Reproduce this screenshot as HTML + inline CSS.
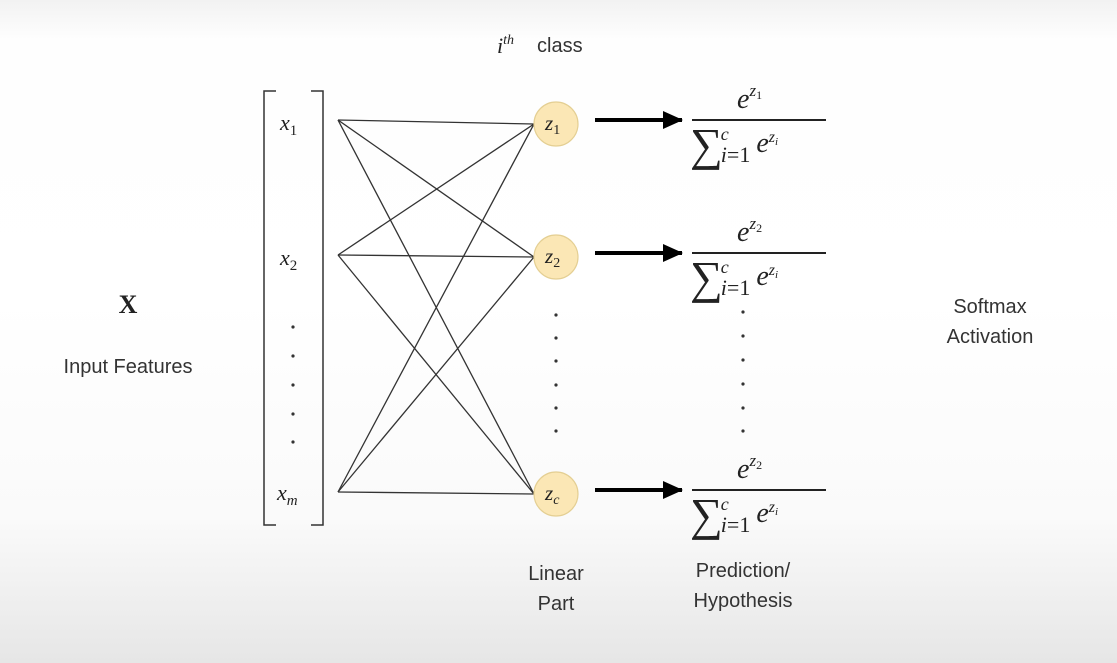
<!DOCTYPE html>
<html><head><meta charset="utf-8">
<style>
html,body{margin:0;padding:0;}
body{width:1117px;height:663px;overflow:hidden;background:linear-gradient(to bottom,#f2f2f2 0px,#fefefe 40px,#ffffff 300px,#fafafa 520px,#e6e6e6 663px);}
svg{display:block;}
.sans{font-family:"Liberation Sans",sans-serif;fill:#333;}
.math{font-family:"Liberation Serif",serif;font-style:italic;fill:#222;}
.rm{font-family:"Liberation Serif",serif;fill:#222;}
</style></head>
<body>
<svg id="diagram" width="1117" height="663" viewBox="0 0 1117 663">
  <defs>
    <marker id="ah" markerWidth="20" markerHeight="18" refX="19" refY="9" orient="auto" markerUnits="userSpaceOnUse" viewBox="0 0 20 18">
      <path d="M0,0 L20,9 L0,18 z" fill="#000"/>
    </marker>
  </defs>
  <text x="497" y="53" class="math" font-size="22">i<tspan font-size="14" dy="-9">th</tspan></text>
  <text x="537" y="52" class="sans" font-size="20">class</text>

  <text x="128" y="313" text-anchor="middle" class="rm" font-size="26" font-weight="bold">X</text>
  <text x="128" y="373" text-anchor="middle" class="sans" font-size="20">Input Features</text>

  <path d="M276,91 L264,91 L264,525 L276,525" fill="none" stroke="#333" stroke-width="1.5"/>
  <path d="M311,91 L323,91 L323,525 L311,525" fill="none" stroke="#333" stroke-width="1.5"/>

  <g id="edges"></g>
  <g id="nodes"></g>

  <text x="280" y="130" class="math" font-size="22">x<tspan font-size="15" font-style="normal" dy="5">1</tspan></text>
  <text x="280" y="265" class="math" font-size="22">x<tspan font-size="15" font-style="normal" dy="5">2</tspan></text>
  <g fill="#333">
    <circle cx="293" cy="327" r="1.6"/><circle cx="293" cy="356" r="1.6"/><circle cx="293" cy="385" r="1.6"/><circle cx="293" cy="414" r="1.6"/><circle cx="293" cy="442" r="1.6"/>
  </g>
  <text x="277" y="500" class="math" font-size="22">x<tspan font-size="15" dy="5">m</tspan></text>

  <g fill="#333">
    <circle cx="556" cy="315" r="1.6"/><circle cx="556" cy="338" r="1.6"/><circle cx="556" cy="361" r="1.6"/><circle cx="556" cy="385" r="1.6"/><circle cx="556" cy="408" r="1.6"/><circle cx="556" cy="431" r="1.6"/>
  </g>
  <g fill="#333">
    <circle cx="743" cy="312" r="1.6"/><circle cx="743" cy="336" r="1.6"/><circle cx="743" cy="360" r="1.6"/><circle cx="743" cy="384" r="1.6"/><circle cx="743" cy="408" r="1.6"/><circle cx="743" cy="431" r="1.6"/>
  </g>
  <g id="formulas"></g>

  <text x="556" y="580" text-anchor="middle" class="sans" font-size="20">Linear</text>
  <text x="556" y="610" text-anchor="middle" class="sans" font-size="20">Part</text>
  <text x="743" y="577" text-anchor="middle" class="sans" font-size="20">Prediction/</text>
  <text x="743" y="607" text-anchor="middle" class="sans" font-size="20">Hypothesis</text>
  <text x="990" y="313" text-anchor="middle" class="sans" font-size="20">Softmax</text>
  <text x="990" y="343" text-anchor="middle" class="sans" font-size="20">Activation</text>
</svg>
<script>
const inputYs = [120, 255, 492];
const nodeYs = [124, 257, 494];
const nodeSubs = ["1", "2", "c"];
const numSubs = ["1", "2", "2"];
const NS = "http://www.w3.org/2000/svg";
const edges = document.getElementById("edges");
const nodes = document.getElementById("nodes");
const formulas = document.getElementById("formulas");
const inX = 338, nodeX = 556, nodeR = 22;
function mk(tag, attrs) { const e = document.createElementNS(NS, tag); for (const k in attrs) e.setAttribute(k, attrs[k]); return e; }
inputYs.forEach((iy, i) => {
  nodeYs.forEach((ny, j) => {
    const l = mk("line", {x1: inX, y1: iy, x2: nodeX - nodeR, y2: ny, stroke: "#333", "stroke-width": 1.3});
    
    
    edges.appendChild(l);
  });
});
nodeYs.forEach((ny, j) => {
  const c = mk("circle", {cx: nodeX, cy: ny, r: nodeR, fill: "#fbe7b5", stroke: "#e4cf93", "stroke-width": 1.2});
  
  
  nodes.appendChild(c);
  const t = mk("text", {x: nodeX - 11, y: ny + 6, class: "math", "font-size": 21});
  t.innerHTML = 'z<tspan font-size="14" dy="4" font-style="' + (nodeSubs[j] === "c" ? "italic" : "normal") + '">' + nodeSubs[j] + '</tspan>';
  
  
  nodes.appendChild(t);
  const a = mk("line", {x1: 595, y1: ny - 4, x2: 682, y2: ny - 4, stroke: "#000", "stroke-width": 4, "marker-end": "url(#ah)"});
  
  
  formulas.appendChild(a);
  const fy = ny - 4;
  const bar = mk("line", {x1: 692, y1: fy, x2: 826, y2: fy, stroke: "#222", "stroke-width": 2});
  
  
  formulas.appendChild(bar);
  const num = mk("text", {x: 737, y: fy - 12, class: "math", "font-size": 28});
  num.innerHTML = 'e<tspan font-size="17" dy="-12">z</tspan><tspan font-size="12" dy="3" font-style="normal">' + numSubs[j] + '</tspan>';
  
  
  formulas.appendChild(num);
  const den = mk("text", {x: 690, y: fy + 40, class: "rm", "font-size": 46});
  den.innerHTML = '∑<tspan font-size="18" font-style="italic" dx="-2" dy="-20">c</tspan><tspan font-size="22" font-style="italic" dx="-8" dy="22">i</tspan><tspan font-size="22">=1</tspan><tspan font-size="28" font-style="italic" dx="6" dy="-10">e</tspan><tspan font-size="16" font-style="italic" dy="-10">z</tspan><tspan font-size="11" font-style="italic" dy="3">i</tspan>';
  
  
  formulas.appendChild(den);
});
</script>
</body></html>
